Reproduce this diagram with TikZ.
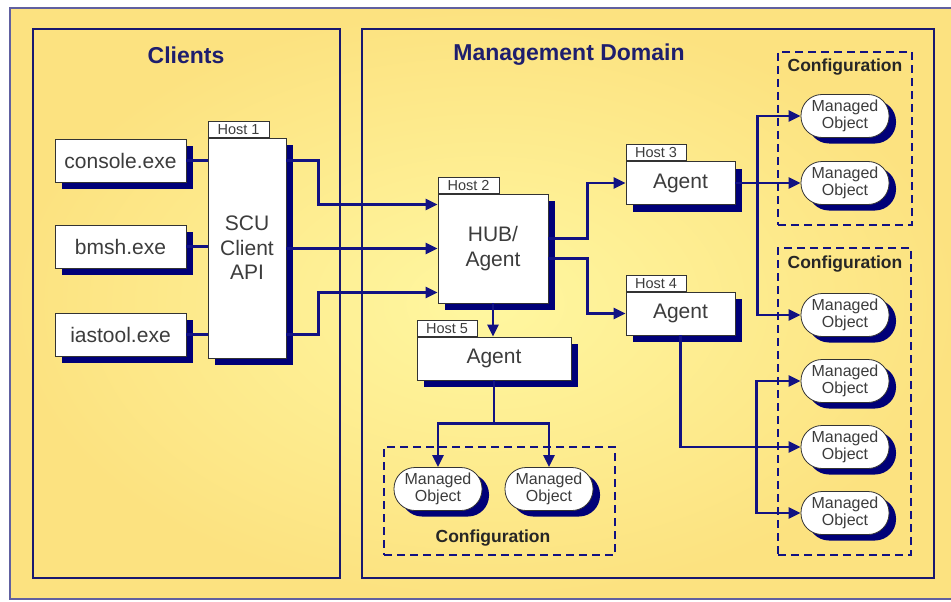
\documentclass[tikz,border=0pt]{standalone}
\usepackage{fontspec}
\setmainfont{Liberation Sans}
\usetikzlibrary{positioning,calc,shadows,arrows.meta}

\definecolor{navy}{RGB}{18,18,130}
\definecolor{shadowblue}{RGB}{0,0,120}
\definecolor{panelblue}{RGB}{24,24,112}
\definecolor{titleblue}{RGB}{30,30,110}
\definecolor{framegrey}{RGB}{96,96,160}
\definecolor{textgrey}{RGB}{60,60,60}
\definecolor{bglight}{RGB}{255,247,160}
\definecolor{bgdark}{RGB}{252,226,128}

\begin{document}
\begin{tikzpicture}[x=1pt,y=-1pt,>={Triangle[length=12pt,width=11pt]}]
        \tikzstyle{box} = [rectangle, draw=black!80, line width=0.8pt, fill=white, text=textgrey, align=center, inner sep=0pt, font=\fontsize{21}{24.5}\selectfont, drop shadow={shadow xshift=7pt, shadow yshift=-7pt, fill=shadowblue, opacity=1}]
        \tikzstyle{client} = [box, minimum width=131pt, minimum height=43pt]
        \tikzstyle{agent} = [box, minimum width=109pt, minimum height=43pt]
        \tikzstyle{mobj} = [rectangle, rounded corners=21pt, draw=black!80, line width=0.8pt, fill=white, text=textgrey, align=center, inner sep=0pt, minimum width=88pt, minimum height=43pt, font=\fontsize{16}{16.5}\selectfont, drop shadow={shadow xshift=7pt, shadow yshift=-6pt, fill=shadowblue, opacity=1}]
        \tikzstyle{hosttab} = [rectangle, draw=black!80, line width=0.8pt, fill=white, text=textgrey, inner sep=0pt, minimum width=61pt, minimum height=16pt, font=\fontsize{14.5}{15}\selectfont]
        \tikzstyle{panel} = [rectangle, draw=panelblue, line width=2.2pt, inner sep=0pt]
        \tikzstyle{cfgbox} = [rectangle, draw=navy, line width=2.2pt, dash pattern=on 8pt off 5pt, inner sep=0pt]
        \tikzstyle{paneltitle} = [font=\fontsize{23}{23}\selectfont\bfseries, text=titleblue]
        \tikzstyle{cfgtitle} = [font=\fontsize{17.5}{18}\selectfont\bfseries, text=black!85]
        \tikzstyle{link} = [draw=navy, line width=2.5pt]

        % background
        \useasboundingbox (0,0) rectangle (951,602);
        \fill [white] (0,0) rectangle (951,602);
        \shadedraw [inner color=bglight, outer color=bgdark, draw=framegrey, line width=2pt] (10,8) rectangle (960,599);

        % panels
        \node (clients) [panel, minimum width=307pt, minimum height=549pt] at (186.5,303.5) {};
        \node (domain) [panel, minimum width=572pt, minimum height=549pt] at (648,303.5) {};
        \node (clientstitle) [paneltitle] at (186,55) {Clients};
        \node (domaintitle) [paneltitle] at (569,55) {Management Domain};

        % configurations
        \node (cfgA) [cfgbox, minimum width=134pt, minimum height=173pt] at (845,138.5) {};
        \node (cfgB) [cfgbox, minimum width=133pt, minimum height=307pt] at (844.5,401.5) {};
        \node (cfgC) [cfgbox, minimum width=231pt, minimum height=108pt] at (499.5,501) {};
        \node (cfgAtitle) [cfgtitle] at (845,67) {Configuration};
        \node (cfgBtitle) [cfgtitle] at (845,264) {Configuration};
        \node (cfgCtitle) [cfgtitle] at (493,538) {Configuration};

        % clients and hosts
        \node (console) [client] at (120.5,160.5) {console.exe};
        \node (bmsh) [client] at (120.5,246.5) {bmsh.exe};
        \node (iastool) [client] at (120.5,334.5) {iastool.exe};
        \node (scu) [box, minimum width=78pt, minimum height=220pt] at (247,248) {SCU\\Client\\API};
        \node (host1) [hosttab, above right=0pt of scu.north west] {Host 1};
        \node (hub) [box, minimum width=110pt, minimum height=109pt] at (493,248.5) {HUB/\\Agent};
        \node (host2) [hosttab, above right=0pt of hub.north west] {Host 2};
        \node (agent3) [agent] at (680.5,183) {Agent};
        \node (host3) [hosttab, minimum width=60pt, above right=0pt of agent3.north west] {Host 3};
        \node (agent4) [agent] at (680.5,313.5) {Agent};
        \node (host4) [hosttab, minimum width=60pt, above right=0pt of agent4.north west] {Host 4};
        \node (agent5) [box, minimum width=154pt, minimum height=43pt] at (494,358.5) {Agent};
        \node (host5) [hosttab, minimum width=60pt, above right=0pt of agent5.north west] {Host 5};

        % managed objects
        \node (moA1) [mobj] at (845,116) {Managed\\Object};
        \node (moA2) [mobj] at (845,183) {Managed\\Object};
        \node (moB1) [mobj] at (845,315) {Managed\\Object};
        \node (moB2) [mobj] at (845,381) {Managed\\Object};
        \node (moB3) [mobj] at (845,447) {Managed\\Object};
        \node (moB4) [mobj] at (845,513) {Managed\\Object};
        \node (moC1) [mobj] at (438,489) {Managed\\Object};
        \node (moC2) [mobj] at (549,489) {Managed\\Object};

        % connectors
        \draw [link] (console.east) -- (console.east -| scu.west);
        \draw [link] (bmsh.east) -- (bmsh.east -| scu.west);
        \draw [link] (iastool.east) -- (iastool.east -| scu.west);
        \draw [link,->] (scu.east |- console) -- ++(32,0) |- ($(hub.west)+(0,-44)$);
        \draw [link,->] (scu.east |- hub.west) -- (hub.west);
        \draw [link,->] (scu.east |- iastool) -- ++(32,0) |- ($(hub.west)+(0,44)$);
        \draw [link,->] ($(hub.east)+(0,-10)$) -- ++(39,0) |- (agent3.west);
        \draw [link,->] ($(hub.east)+(0,10)$) -- ++(39,0) |- (agent4.west);
        \draw [link,->] (hub.south) -- (hub.south |- agent5.north);
        \draw [link,->] (agent5.south) -- ++(0,43) -| (moC1.north);
        \draw [link,->] (agent5.south) -- ++(0,43) -| (moC2.north);
        \draw [link,->] (agent3.east) -- (moA2.west);
        \draw [link,->] (agent3.east) -- ++(22,0) |- (moA1.west);
        \draw [link,->] (agent3.east) -- ++(22,0) |- (moB1.west);
        \draw [link,->] (agent4.south) |- (moB3.west);
        \draw [link,->] (agent4.south) |- ($(moB3.west)+(-44,0)$) |- (moB2.west);
        \draw [link,->] (agent4.south) |- ($(moB3.west)+(-44,0)$) |- (moB4.west);
\end{tikzpicture}
\end{document}
